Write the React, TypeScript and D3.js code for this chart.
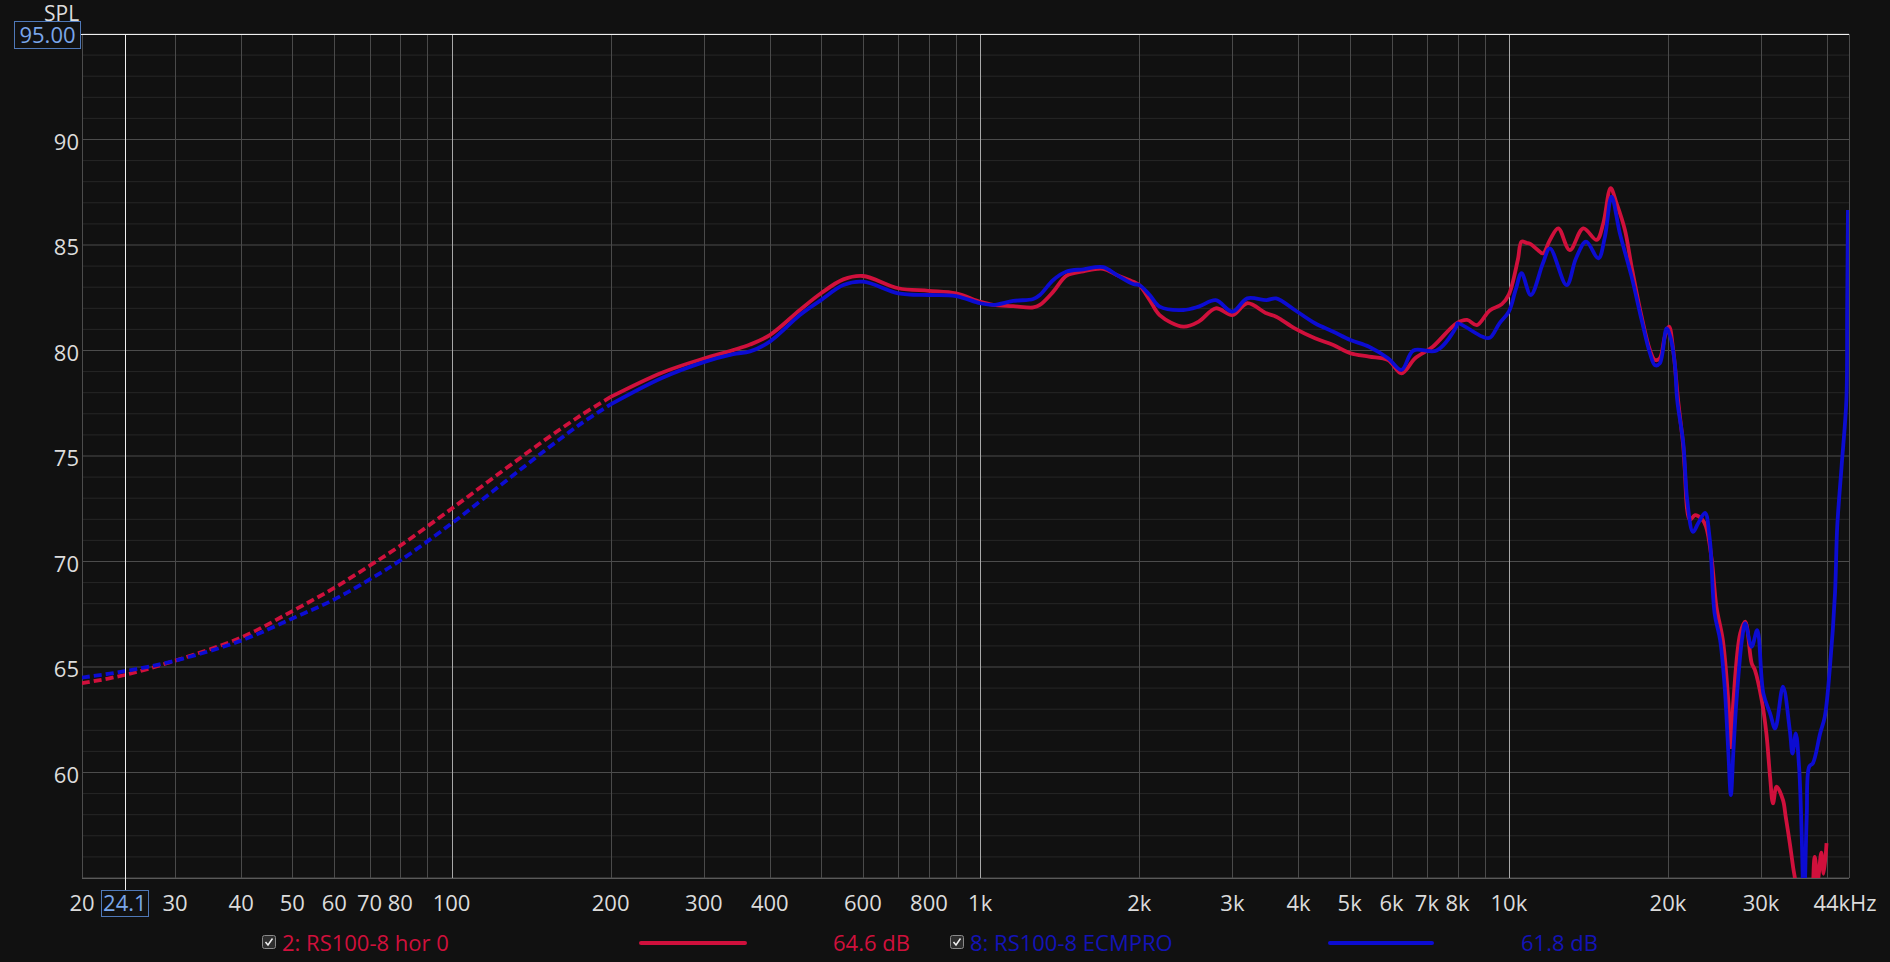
import React from 'react';
import * as d3 from 'd3';

const W = 1890;
const H = 962;
const PLOT = { left: 82, right: 1849, top: 34, bottom: 878 };

const freqDomain: [number, number] = [20, 44000];
const dbDomain: [number, number] = [55, 95];

// 2: RS100-8 hor 0  (frequency Hz, SPL dB)
const redData: [number, number][] = [
  [20, 64.23], [24.1, 64.62], [30, 65.3], [40, 66.4], [50, 67.65], [60, 68.75], [70, 69.8],
  [80, 70.75], [100, 72.5], [125, 74.3], [150, 75.75], [175, 76.9], [200, 77.8],
  [250, 78.95], [300, 79.62], [341, 80.02], [367, 80.28], [400, 80.73],
  [456, 81.92], [500, 82.71], [551, 83.37], [600, 83.53], [700, 82.95], [800, 82.83], [900, 82.71],
  [1000, 82.31], [1058, 82.16], [1155, 82.1], [1260, 82.04], [1297, 82.16], [1375, 82.79],
  [1457, 83.55], [1567, 83.75], [1708, 83.87], [1812, 83.58], [1948, 83.26], [2000, 83.1],
  [2093, 82.39], [2185, 81.68], [2423, 81.13], [2590, 81.37], [2790, 82.0], [3000, 81.68],
  [3200, 82.24], [3480, 81.76], [3630, 81.6], [3935, 81.05], [4299, 80.58], [4656, 80.26],
  [5015, 79.87], [5440, 79.71], [5910, 79.55], [6265, 78.92], [6650, 79.63], [7180, 80.18],
  [7960, 81.29], [8340, 81.45], [8700, 81.2], [9200, 81.9], [9700, 82.2], [10000, 82.65],
  [10400, 84.3], [10570, 85.16], [10800, 85.1], [11000, 85.04], [11300, 84.8], [11600, 84.6],
  [11960, 85.24], [12400, 85.79], [13040, 84.76], [13830, 85.79], [14660, 85.24], [15090, 86.03],
  [15580, 87.69], [15990, 86.97], [16580, 85.71], [17070, 83.97], [17830, 81.6], [18490, 80.02],
  [18900, 79.55], [19300, 79.63], [19730, 80.66], [20100, 81.13], [20460, 80.02], [20900, 77.65],
  [21380, 75.44], [21500, 74.5], [22000, 71.97], [22500, 72.2], [23100, 72.05], [23600, 71.65],
  [24200, 70.07], [24700, 67.86], [25400, 66.28], [26000, 63.44], [26300, 61.2], [26600, 63.44],
  [27400, 66.6], [28000, 67.15], [28800, 65.18], [29200, 64.86], [30100, 63.4], [30700, 61.86],
  [31200, 59.8], [31600, 58.54], [32100, 59.33], [33000, 58.7], [33400, 57.9], [34000, 56.65],
  [34500, 55.5], [34900, 54.7], [35500, 52.0], [36500, 50.0], [37300, 52.0], [37900, 56.0],
  [38400, 54.9], [39000, 56.2], [39400, 55.2], [39900, 56.65],
];

// 8: RS100-8 ECMPRO
const blueData: [number, number][] = [
  [20, 64.5], [24.1, 64.8], [30, 65.3], [40, 66.25], [50, 67.3], [60, 68.2], [70, 69.15],
  [80, 70.05], [100, 71.8], [125, 73.7], [150, 75.25], [175, 76.5], [200, 77.45],
  [250, 78.7], [300, 79.45], [341, 79.83], [367, 79.96], [400, 80.42],
  [456, 81.68], [500, 82.39], [551, 83.1], [600, 83.26], [700, 82.71], [800, 82.63], [900, 82.58],
  [1000, 82.24], [1058, 82.16], [1155, 82.35], [1260, 82.44], [1297, 82.63], [1375, 83.34],
  [1457, 83.74], [1567, 83.85], [1708, 83.95], [1812, 83.58], [1948, 83.15], [2000, 83.1],
  [2093, 82.63], [2185, 82.08], [2423, 81.92], [2590, 82.08], [2790, 82.39], [3000, 81.84],
  [3200, 82.47], [3480, 82.39], [3630, 82.47], [3935, 81.92], [4299, 81.29], [4656, 80.89],
  [5015, 80.5], [5440, 80.18], [5910, 79.63], [6265, 79.08], [6600, 80.0], [7300, 80.0],
  [7960, 81.13], [8000, 81.29], [8900, 80.66], [9200, 80.6], [9600, 81.29], [10000, 81.84],
  [10300, 82.87], [10570, 83.66], [11000, 82.63], [11600, 84.13], [11960, 84.84], [12860, 83.1],
  [13400, 84.37], [14000, 85.16], [14770, 84.37], [15200, 85.4], [15640, 87.29], [16220, 85.55],
  [17070, 83.5], [17830, 81.45], [18490, 79.87], [18900, 79.3], [19300, 79.39], [19880, 81.05],
  [20200, 80.66], [20600, 79.39], [20820, 77.65], [21380, 75.6], [21750, 72.9], [22300, 71.4],
  [22800, 71.8], [23500, 72.3], [24000, 71.02], [24500, 67.55], [25100, 66.28], [25600, 64.07],
  [26000, 61.07], [26300, 58.93], [26600, 61.07], [26960, 63.44], [27600, 66.28], [28000, 67.07],
  [28800, 65.96], [29500, 66.75], [30300, 63.75], [31200, 62.8], [31900, 62.09], [33000, 64.07],
  [34000, 62.0], [34400, 60.9], [34900, 61.85], [35400, 60.28], [35800, 57.12], [36150, 53.5],
  [36600, 57.9], [37000, 60.28], [37600, 60.44], [38800, 61.85], [39600, 62.65], [40500, 65.02],
  [41400, 68.5], [41800, 71.65], [42600, 74.5], [43500, 77.65], [43650, 82.0], [43800, 86.66],
];

const dashedBelow = 200;

const yTickValues = [60, 65, 70, 75, 80, 85, 90];
const xTickValues = [20, 30, 40, 50, 60, 70, 80, 100, 200, 300, 400, 600, 800, 1000, 2000, 3000, 4000, 5000, 6000, 7000, 8000, 10000, 20000, 30000, 44000];
const xTickTexts = ['20', '30', '40', '50', '60', '70', '80', '100', '200', '300', '400', '600', '800', '1k', '2k', '3k', '4k', '5k', '6k', '7k', '8k', '10k', '20k', '30k', '44kHz'];

const cursorFreq = 24.1;
const cursorFreqText = '24.1';
const cursorDb = 95;
const cursorDbText = '95.00';

const legendNames = ['2: RS100-8 hor 0', '8: RS100-8 ECMPRO'];
const legendValues = ['64.6 dB', '61.8 dB'];

const RED = '#d0103c';
const BLUE = '#0c0cd2';
const LEGEND_BLUE = '#1414b8';
const FONT = "'Open Sans', 'Noto Sans', sans-serif";

export default function App() {
  const x = d3.scaleLog().domain(freqDomain).range([PLOT.left, PLOT.right]);
  const y = d3.scaleLinear().domain(dbDomain).range([PLOT.bottom, PLOT.top]);

  const line = d3
    .line<[number, number]>()
    .x((d) => x(d[0]))
    .y((d) => y(d[1]))
    .curve(d3.curveCatmullRom.alpha(0.5));

  const vGrid: number[] = [];
  [10, 100, 1000, 10000].forEach((dec) => {
    for (let m = 1; m <= 9; m++) {
      const f = m * dec;
      if (f >= freqDomain[0] && f <= freqDomain[1]) vGrid.push(f);
    }
  });
  const hGrid = d3.range(dbDomain[0], dbDomain[1] + 1, 1);

  const series = [
    { data: redData, color: RED },
    { data: blueData, color: BLUE },
  ];

  const legendX = [
    { box: 269, name: 282, line: [641, 745], value: 833 },
    { box: 957, name: 970, line: [1330, 1432], value: 1521 },
  ];
  const legendColors = [RED, LEGEND_BLUE];
  const legendLineColors = [RED, BLUE];
  const legendY = 943;

  const cx = x(cursorFreq);
  const cy = y(cursorDb);

  return (
    <svg
      width={W}
      height={H}
      style={{ position: 'absolute', left: 0, top: 0, display: 'block' }}
      fontFamily={FONT}
    >
      <defs>
        <clipPath id="plotClip">
          <rect x={PLOT.left} y={PLOT.top} width={PLOT.right - PLOT.left} height={PLOT.bottom - PLOT.top} />
        </clipPath>
      </defs>
      <rect x={0} y={0} width={W} height={H} fill="#111111" />

      {hGrid.map((v) => (
        <line
          key={'h' + v}
          x1={PLOT.left}
          x2={PLOT.right}
          y1={y(v)}
          y2={y(v)}
          stroke={v % 5 === 0 ? '#4c4c4c' : '#272727'}
          strokeWidth={1}
        />
      ))}
      {vGrid.map((f) => {
        const decade = f === 100 || f === 1000 || f === 10000;
        return (
          <line
            key={'v' + f}
            x1={Math.round(x(f)) + 0.5}
            x2={Math.round(x(f)) + 0.5}
            y1={PLOT.top}
            y2={PLOT.bottom}
            stroke={decade ? '#a8a8a8' : '#4a4a4a'}
            strokeWidth={1}
          />
        );
      })}
      <line x1={PLOT.left + 0.5} x2={PLOT.left + 0.5} y1={PLOT.top} y2={PLOT.bottom} stroke="#4c4c4c" />
      <line x1={PLOT.right + 0.5} x2={PLOT.right + 0.5} y1={PLOT.top} y2={PLOT.bottom} stroke="#4c4c4c" />
      <line x1={PLOT.left} x2={PLOT.right} y1={PLOT.bottom + 0.5} y2={PLOT.bottom + 0.5} stroke="#5a5a5a" />

      <g clipPath="url(#plotClip)">
        {series.map((s, i) => {
          const low = s.data.filter((d) => d[0] <= dashedBelow);
          const high = s.data.filter((d) => d[0] >= dashedBelow);
          return (
            <g key={'s' + i}>
              <path d={line(low) || ''} fill="none" stroke={s.color} strokeWidth={3.8} strokeDasharray="8,4" />
              <path d={line(high) || ''} fill="none" stroke={s.color} strokeWidth={3.8} strokeLinejoin="round" />
            </g>
          );
        })}
      </g>

      <line x1={Math.round(cx) + 0.5} x2={Math.round(cx) + 0.5} y1={PLOT.top} y2={890} stroke="#f0f0f0" strokeWidth={1} />
      <line x1={81} x2={PLOT.right} y1={cy + 0.5} y2={cy + 0.5} stroke="#f0f0f0" strokeWidth={1.2} />

      {yTickValues.map((v) => (
        <text key={'yt' + v} x={79} y={y(v) + 10} textAnchor="end" fontSize={22} fill="#dcdcdc">
          {v}
        </text>
      ))}
      <text x={44} y={21} fontSize={21} fill="#dcdcdc">SPL</text>
      <rect x={14.5} y={21.5} width={66} height={27} fill="#111111" stroke="#4f78b8" strokeWidth={1} />
      <text x={47.5} y={43} textAnchor="middle" fontSize={22} fill="#7aa6ea">{cursorDbText}</text>

      {xTickValues.map((f, i) => (
        <text
          key={'xt' + f}
          x={f === 44000 ? x(f) - 4 : x(f)}
          y={911}
          textAnchor="middle"
          fontSize={22}
          fill="#dcdcdc"
        >
          {xTickTexts[i]}
        </text>
      ))}
      <rect x={Math.round(cx) - 23.5} y={890.5} width={47} height={26} fill="#111111" stroke="#4f78b8" strokeWidth={1} />
      <text x={cx} y={911} textAnchor="middle" fontSize={22} fill="#7aa6ea">{cursorFreqText}</text>

      {legendNames.map((name, i) => {
        const L = legendX[i];
        return (
          <g key={'lg' + i}>
            <rect x={L.box - 6.5} y={legendY - 7.5} width={13} height={13} rx={2} fill="#2e2e2e" stroke="#8a8a8a" strokeWidth={1} />
            <path
              d={`M${L.box - 3.5},${legendY - 1} L${L.box - 1},${legendY + 2} L${L.box + 3.5},${legendY - 4.5}`}
              fill="none"
              stroke="#f0f0f0"
              strokeWidth={1.5}
            />
            <text x={L.name} y={legendY + 8} fontSize={22} fill={legendColors[i]}>{name}</text>
            <line x1={L.line[0]} x2={L.line[1]} y1={legendY} y2={legendY} stroke={legendLineColors[i]} strokeWidth={4} strokeLinecap="round" />
            <text x={L.value} y={legendY + 8} fontSize={22} fill={legendColors[i]}>{legendValues[i]}</text>
          </g>
        );
      })}
    </svg>
  );
}
